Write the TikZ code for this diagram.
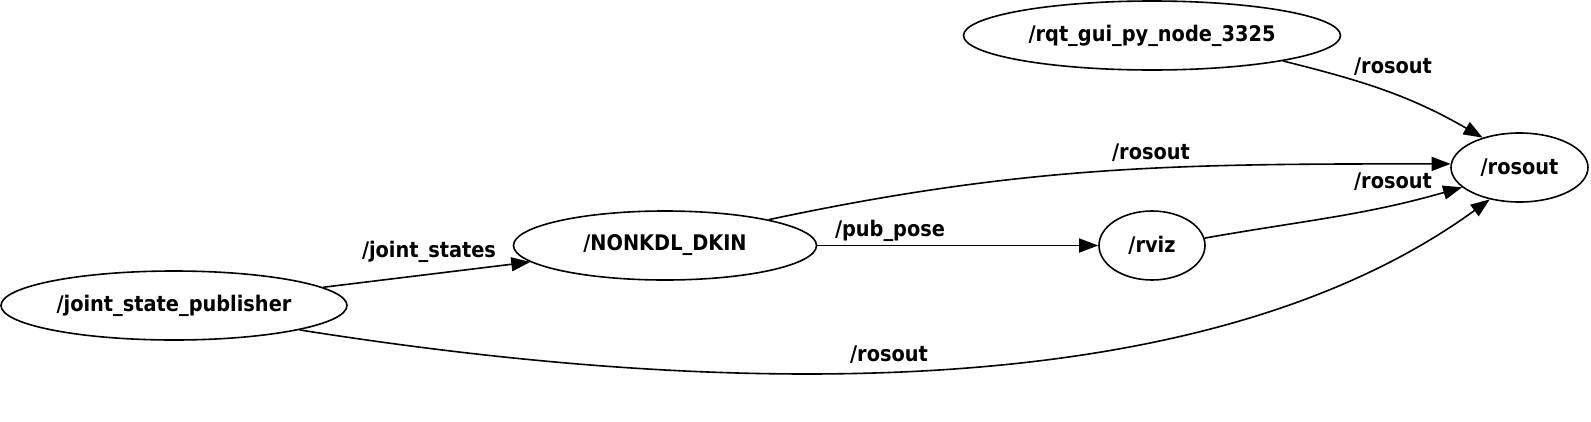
\documentclass[tikz,border=0pt]{standalone}
\usepackage{fontspec}
\newfontfamily\gfont{DejaVu Sans Condensed}
\usetikzlibrary{shapes.geometric,arrows.meta}
\begin{document}
\begin{tikzpicture}[x=1pt,y=1pt,
  every node/.style={font=\gfont\bfseries\fontsize{21.5}{25}\selectfont},
  rosnode/.style={draw,ellipse,line width=1.6pt,inner sep=0pt,minimum height=69pt},
  topic/.style={inner sep=0pt},
  edge/.style={line width=1.6pt,-{Triangle[length=19pt,width=14pt]}}]
\useasboundingbox (0,0) rectangle (1591,-421);
\node[rosnode,minimum width=346pt] (jsp) at (174,-305.5) {/joint\_state\_publisher};
\node[rosnode,minimum width=303pt] (nk) at (665,-245.5) {/NONKDL\_DKIN};
\node[rosnode,minimum width=106pt] (rviz) at (1152,-245.5) {/rviz};
\node[rosnode,minimum width=377pt] (rqt) at (1152,-35.5) {/rqt\_gui\_py\_node\_3325};
\node[rosnode,minimum width=137pt] (rosout) at (1519.5,-167.5) {/rosout};

\draw[edge] (jsp) -- (nk);
\draw[edge] (nk) -- (rviz);
\draw[edge] (jsp.-11) .. controls +(-9:420) and +(216:360) .. (rosout.-133);
\draw[edge] (nk.14) to[out=12,in=180] (rosout.177);
\draw[edge] (rviz.8) to[out=10,in=196] (rosout.199);
\draw[edge] (rqt.-11) to[out=-14,in=150] (rosout.141);

\node[topic] (l1) at (429,-252) {/joint\_states};
\node[topic] (l2) at (890,-231) {/pub\_pose};
\node[topic] (l3) at (1151,-153) {/rosout};
\node[topic] (l4) at (1393,-181.5) {/rosout};
\node[topic] (l5) at (1393,-67) {/rosout};
\node[topic] (l6) at (889,-355) {/rosout};
\end{tikzpicture}
\end{document}
